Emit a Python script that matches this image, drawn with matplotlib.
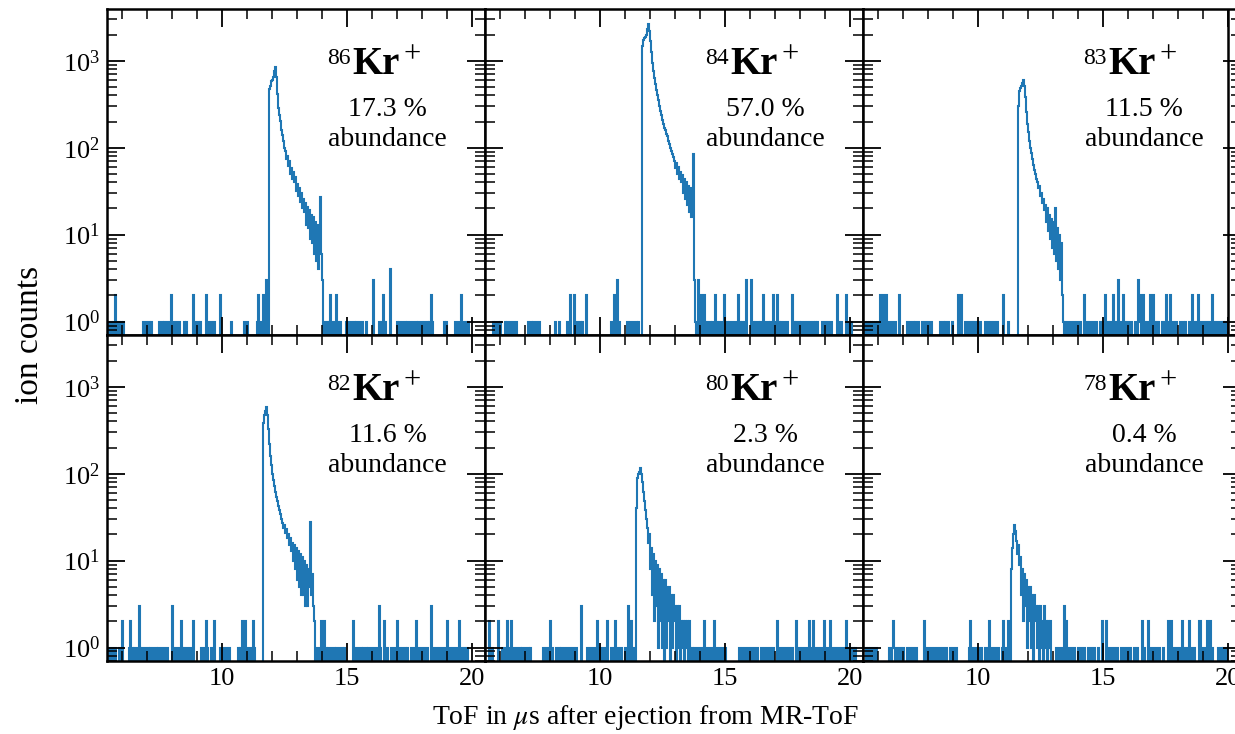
import numpy as np
import matplotlib
matplotlib.use('Agg')
import matplotlib.pyplot as plt
from matplotlib.ticker import MultipleLocator, LogLocator, NullFormatter

plt.rcParams['font.family'] = 'Liberation Serif'
plt.rcParams['mathtext.fontset'] = 'stix'

# histogram grid (ToF in microseconds)
bin_width = 0.04
tof_min, tof_max = 5.40, 20.60

isotopes = ['86', '84', '83', '82', '80', '78']
abundances = ['17.3 %', '57.0 %', '11.5 %', '11.6 %', '2.3 %', '0.4 %']

# first bin of each main peak
peak_start = [11.89, 11.69, 11.61, 11.65, 11.45, 11.33]

peak_86 = [480, 520, 580, 610, 660, 760, 840, 650, 420, 290, 240, 205, 160, 140,
           120, 100, 92, 74, 80, 62, 70, 50, 58, 44, 52, 40, 46, 32, 38, 28, 34,
           24, 30, 20, 26, 18, 23, 13, 21, 12, 19, 9, 17, 8, 16, 6, 14, 5, 13, 4,
           12, 27, 6, 3]
peak_84 = [1500, 1750, 1820, 1880, 2000, 2300, 2650, 2200, 1700, 1250, 950, 760,
           640, 540, 460, 400, 350, 300, 265, 240, 210, 190, 170, 160, 145, 135,
           120, 110, 100, 92, 85, 78, 70, 58, 66, 50, 60, 44, 52, 40, 48, 30, 44,
           26, 40, 22, 36, 18, 34, 16, 30, 85, 3]
peak_83 = [300, 450, 490, 520, 560, 600, 520, 380, 260, 190, 150, 120, 100, 86,
           74, 64, 56, 50, 44, 40, 34, 36, 28, 30, 23, 26, 19, 22, 14, 20, 11, 17,
           9, 15, 7, 14, 6, 20, 5, 12, 4, 10, 3, 8, 2]
peak_82 = [380, 480, 530, 590, 470, 330, 220, 160, 125, 100, 84, 72, 62, 54, 48,
           42, 38, 34, 30, 27, 24, 26, 21, 23, 18, 20, 15, 18, 13, 16, 10, 15, 8,
           14, 6, 13, 5, 12, 4, 11, 4, 10, 3, 9, 3, 8, 5, 28, 4, 7, 3, 2]
peak_80 = [40, 90, 100, 105, 115, 98, 80, 62, 48, 38, 30, 24, 16, 20, 8, 14, 4,
           12, 2, 10, 3, 9, 1, 8, 2, 7, 1, 6, 0, 6, 1, 5, 2, 5, 0, 4, 1, 4, 2, 3,
           0, 3, 1, 3, 0, 2, 1, 2, 0, 2, 1, 2, 0, 2, 1, 0, 1]
peak_78 = [8, 14, 20, 26, 22, 17, 12, 15, 9, 11, 4, 8, 2, 7, 3, 6, 1, 5, 2, 5, 1,
           4, 0, 4, 2, 3, 1, 3, 0, 3, 1, 2, 0, 3, 1, 2, 0, 2, 1, 2]

# background events (bins holding 1, 2, 3 or 4 counts)
ones_86 = [5.46, 5.58, 5.66, 5.78, 5.90, 5.98, 6.06, 6.86, 6.98, 7.10, 7.18, 7.50,
           7.62, 7.70, 7.82, 7.94, 8.06, 8.18, 8.30, 8.50, 8.58, 8.94, 9.06, 9.14,
           9.46, 9.58, 9.70, 10.38, 10.90, 11.02, 11.42, 11.54, 11.70, 14.10,
           14.22, 14.30, 14.42, 14.50, 14.66, 14.74, 14.98, 15.06, 15.18, 15.30,
           15.38, 15.50, 15.62, 15.78, 16.30, 16.38, 16.54, 17.02, 17.10, 17.22,
           17.34, 17.42, 17.54, 17.66, 17.78, 17.86, 17.98, 18.10, 18.22, 18.30,
           18.42, 18.90, 18.98, 19.34, 19.46, 19.66, 19.78, 19.86]
twos_86 = [5.72, 7.98, 8.84, 9.36, 9.94, 11.44, 11.66, 14.34, 14.58, 16.46, 18.38,
           19.58]
threes_86 = [11.78, 16.04]
fours_86 = [16.74]

ones_84 = [5.74, 5.82, 5.94, 6.02, 6.22, 6.30, 6.42, 6.54, 6.66, 7.14, 7.26, 7.34,
           7.46, 7.58, 8.22, 8.38, 8.70, 9.10, 9.22, 9.30, 10.46, 10.62, 10.78,
           11.10, 11.22, 11.34, 11.46, 11.54, 13.82, 13.98, 14.10, 14.22, 14.30,
           14.42, 14.50, 14.70, 14.78, 14.86, 15.02, 15.10, 15.18, 15.30, 15.42,
           15.62, 15.70, 15.78, 16.14, 16.22, 16.34, 16.42, 16.62, 16.74, 16.82,
           17.02, 17.18, 17.26, 17.38, 17.50, 17.78, 17.86, 17.98, 18.06, 18.18,
           18.30, 18.42, 18.54, 18.62, 18.70, 18.90, 19.02, 19.14, 19.26, 19.58,
           19.66, 19.94, 20.06]
twos_84 = [8.83, 8.97, 9.47, 10.57, 14.04, 14.17, 14.61, 14.97, 15.52, 16.53,
           16.93, 17.08, 17.69, 19.49, 19.84]
threes_84 = [10.69, 13.93, 15.87, 16.07]

ones_83 = [5.50, 5.58, 5.66, 5.74, 5.82, 5.90, 5.98, 6.46, 6.58, 6.70, 6.86, 7.18,
           7.30, 7.42, 7.50, 7.62, 7.78, 7.90, 8.02, 8.14, 8.50, 8.62, 8.70, 8.82,
           8.98, 9.50, 9.62, 9.74, 9.86, 9.98, 10.10, 10.30, 10.42, 10.54, 10.66,
           10.78, 11.22, 13.42, 13.50, 13.62, 13.74, 13.86, 13.98, 14.10, 14.38,
           14.50, 14.62, 14.74, 14.90, 15.02, 15.22, 15.30, 15.50, 15.70, 15.90,
           16.02, 16.14, 16.30, 16.46, 16.70, 16.82, 16.98, 17.10, 17.22, 17.38,
           17.50, 17.62, 17.82, 17.94, 18.10, 18.22, 18.30, 18.46, 18.62, 18.74,
           18.90, 19.02, 19.14, 19.26, 19.46, 19.58, 19.70, 19.82, 19.90]
twos_83 = [6.10, 6.22, 6.33, 6.85, 9.23, 9.35, 11.00, 14.27, 15.08, 15.43, 15.80,
           16.49, 16.61, 16.88, 17.02, 17.53, 17.69, 18.56, 18.81, 19.36]
threes_83 = [15.63, 16.42]

ones_82 = [5.42, 5.50, 5.62, 5.74, 5.90, 6.30, 6.42, 6.50, 6.62, 6.74, 6.82, 6.94,
           7.06, 7.14, 7.26, 7.38, 7.46, 7.58, 7.70, 7.82, 8.06, 8.18, 8.30, 8.42,
           8.50, 8.62, 8.74, 9.18, 9.30, 9.42, 9.58, 9.94, 10.06, 10.18, 10.30,
           10.66, 10.74, 10.90, 11.02, 11.14, 11.30, 13.78, 13.90, 14.02, 14.18,
           14.26, 14.38, 14.50, 14.58, 14.70, 14.82, 14.90, 15.34, 15.46, 15.58,
           15.66, 15.78, 15.86, 15.98, 16.10, 16.22, 16.34, 16.50, 16.62, 16.78,
           16.90, 17.10, 17.22, 17.34, 17.42, 17.58, 17.70, 17.86, 17.98, 18.10,
           18.22, 18.46, 18.58, 18.70, 18.82, 18.94, 19.14, 19.26, 19.38, 19.58,
           19.70, 19.82]
twos_82 = [6.00, 6.35, 8.37, 8.84, 9.36, 9.71, 10.81, 10.92, 11.27, 13.96, 14.11,
           15.24, 16.48, 17.00, 17.78, 19.03, 19.49]
threes_82 = [6.69, 8.03, 16.31, 18.36]

ones_80 = [5.58, 5.70, 6.10, 6.22, 6.30, 6.42, 6.58, 6.70, 6.82, 6.90, 7.02, 7.14,
           7.22, 7.74, 7.86, 7.98, 8.10, 8.26, 8.38, 8.46, 8.58, 8.70, 8.82, 8.94,
           9.06, 9.50, 9.62, 9.74, 9.86, 10.02, 10.14, 10.26, 10.46, 10.58, 10.74,
           10.86, 11.02, 11.18, 11.34, 13.78, 13.90, 14.02, 14.14, 14.26, 14.38,
           14.50, 14.66, 14.78, 14.90, 15.02, 15.58, 15.70, 15.82, 15.94, 16.06,
           16.18, 16.30, 16.46, 16.58, 16.70, 16.82, 16.94, 17.10, 17.22, 17.34,
           17.46, 17.58, 17.70, 17.98, 18.10, 18.22, 18.34, 18.46, 18.62, 18.74,
           18.86, 19.02, 19.14, 19.30, 19.42, 19.54, 19.66, 19.78, 19.90, 20.02,
           20.14, 20.22]
twos_80 = [5.59, 5.93, 6.31, 6.45, 8.02, 9.88, 10.28, 10.63, 11.26, 14.19, 14.56,
           17.08, 17.86, 18.39, 18.53, 18.97, 19.20, 19.84]
threes_80 = [9.24, 11.15]

ones_78 = [5.54, 5.62, 5.70, 5.82, 5.94, 6.46, 6.58, 6.66, 6.78, 6.90, 7.02, 7.18,
           7.30, 7.42, 7.54, 7.90, 8.02, 8.14, 8.26, 8.38, 8.50, 8.62, 8.74, 8.90,
           9.02, 9.14, 9.66, 9.78, 9.90, 10.02, 10.14, 10.30, 10.42, 10.58, 10.70,
           10.82, 10.98, 11.10, 11.26, 13.14, 13.26, 13.38, 13.62, 13.74, 13.86,
           14.02, 14.14, 14.26, 14.42, 14.54, 14.66, 14.82, 15.22, 15.34, 15.46,
           15.58, 15.74, 15.86, 15.98, 16.10, 16.26, 16.38, 16.66, 16.90, 17.02,
           17.14, 17.26, 17.42, 17.86, 17.98, 18.10, 18.26, 18.38, 18.54, 18.66,
           18.98, 19.10, 19.22, 19.38, 19.62, 19.74, 19.82, 19.94]
twos_78 = [6.60, 7.84, 9.69, 10.45, 11.03, 11.23, 13.54, 14.99, 15.13, 16.58,
           16.81, 17.60, 17.74, 18.16, 18.47, 18.84, 18.89, 19.19, 19.29]
threes_78 = [13.46]

peaks = [peak_86, peak_84, peak_83, peak_82, peak_80, peak_78]
ones = [ones_86, ones_84, ones_83, ones_82, ones_80, ones_78]
twos = [twos_86, twos_84, twos_83, twos_82, twos_80, twos_78]
threes = [threes_86, threes_84, threes_83, threes_82, threes_80, threes_78]
fours = [fours_86, [], [], [], [], []]

edges = np.arange(tof_min, tof_max + 1e-9, bin_width)


def to_bin(x):
    return np.floor((np.asarray(x, dtype=float) - tof_min) / bin_width + 1e-6).astype(int)


def build_counts(i):
    counts = np.zeros(len(edges) - 1)
    counts[to_bin(ones[i])] = 1
    counts[to_bin(twos[i])] = 2
    counts[to_bin(threes[i])] = 3
    counts[to_bin(fours[i])] = 4
    start = to_bin(peak_start[i])
    counts[start:start + len(peaks[i])] = peaks[i]
    return counts


fig, axes = plt.subplots(2, 3, sharex=True, sharey=True, figsize=(12.35, 7.34), dpi=100)
fig.subplots_adjust(left=0.0866, right=1.0049, bottom=0.0995, top=0.9877,
                    wspace=0, hspace=0)

for i, ax in enumerate(axes.flat):
    ax.stairs(build_counts(i), edges, color='#1f77b4', lw=1.5)
    ax.set_yscale('log')
    ax.set_ylim(0.7, 3950)
    ax.set_xlim(5.41, 20.53)

    ax.xaxis.set_major_locator(MultipleLocator(5))
    ax.xaxis.set_minor_locator(MultipleLocator(1))
    ax.yaxis.set_major_locator(LogLocator(base=10, numticks=10))
    ax.yaxis.set_minor_locator(LogLocator(base=10, subs=np.arange(2, 10), numticks=20))
    ax.yaxis.set_minor_formatter(NullFormatter())
    ax.tick_params(which='both', direction='in', top=True, right=True, labelsize=19)
    ax.tick_params(which='major', length=13, width=1.3, pad=5)
    ax.tick_params(which='minor', length=7, width=1.1)
    for sp in ax.spines.values():
        sp.set_linewidth(1.8)

    kr = ax.text(0.648, 0.80, 'Kr', transform=ax.transAxes, fontsize=28,
                 fontweight='bold', ha='left', va='baseline')
    ax.annotate(isotopes[i], xy=(0, 1), xycoords=kr, xytext=(-1, -1),
                textcoords='offset points', ha='right', va='top', fontsize=17)
    ax.annotate('+', xy=(1, 1), xycoords=kr, xytext=(3, 4),
                textcoords='offset points', ha='left', va='top', fontsize=22)
    ax.text(0.743, 0.693, abundances[i], transform=ax.transAxes, fontsize=20,
            ha='center', va='center')
    ax.text(0.743, 0.601, 'abundance', transform=ax.transAxes, fontsize=20,
            ha='center', va='center')

axes[0, 2].axvline(20, color='k', lw=1.8)

fig.text(0.523, 0.022, r'ToF in $\mu$s after ejection from MR-ToF',
         ha='center', va='center', fontsize=20)
fig.text(0.024, 0.544, 'ion counts', rotation=90, ha='center', va='center',
         fontsize=24)

fig.savefig('out.png', dpi=100)
